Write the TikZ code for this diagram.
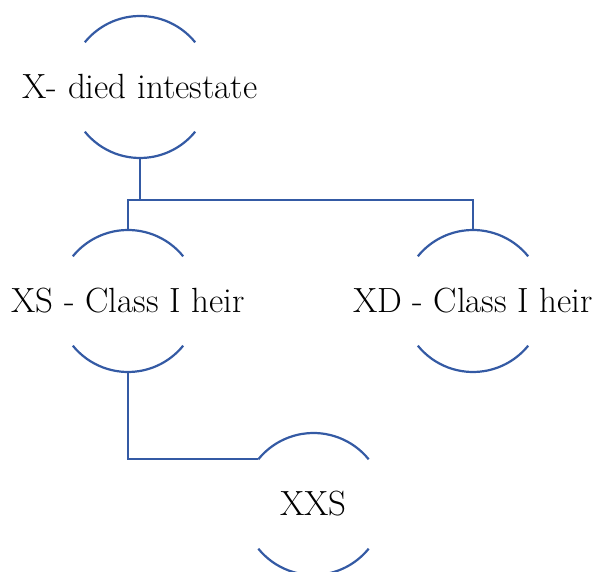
\documentclass[tikz,border=0pt]{standalone}
\begin{document}
\begin{tikzpicture}[x=1pt,y=1pt,
  line width=2.2pt,
  ring/.style={circle,draw=none,inner sep=0pt,outer sep=0pt,minimum size=142pt},
  label/.style={inner sep=0pt,font=\fontsize{35}{42}\selectfont},
  conn/.style={draw=linkblue,line width=2.2pt}]
\definecolor{linkblue}{RGB}{52,90,164}
\useasboundingbox (0,0) rectangle (599,572);
% circle holders
\node[ring] (xc) at (140,485) {};
\node[ring] (xsc) at (128,271) {};
\node[ring] (xdc) at (473,271) {};
\node[ring] (xxsc) at (313.5,68) {};
% arcs
\foreach \n in {xc,xsc,xdc,xxsc}{
  \draw[linkblue] (\n.39) arc (39:141:71pt);
  \draw[linkblue] (\n.219) arc (219:321:71pt);
}
% labels
\node[label] (x) at (140,485) {X- died intestate};
\node[label] (xs) at (128,271) {XS - Class I heir};
\node[label] (xd) at (473,271) {XD - Class I heir};
\node[label] (xxs) at (313.5,68) {XXS};
% connectors
\coordinate (j) at (140,372);
\draw[conn] (xc.south) -- (j);
\draw[conn] (xsc.north) -- (xsc.north |- j) -- (xdc.north |- j) -- (xdc.north);
\draw[conn] (xsc.south) |- (xxsc.141);
\end{tikzpicture}
\end{document}
